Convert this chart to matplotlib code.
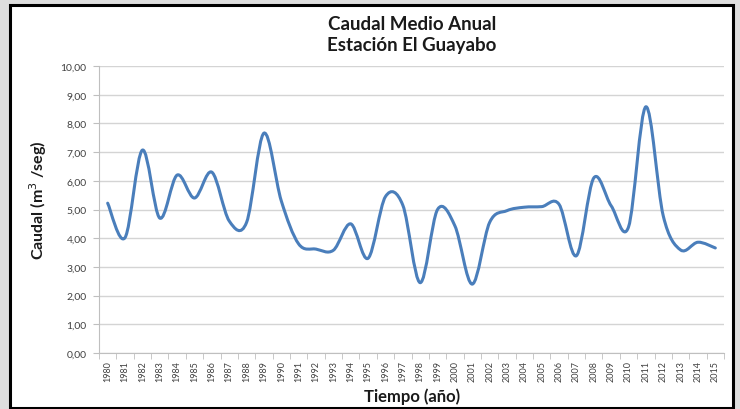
import numpy as np
import matplotlib.pyplot as plt
from matplotlib.path import Path
from matplotlib.patches import PathPatch, Rectangle

years = list(range(1980, 2016))
caudal = [5.22, 4.02, 7.07, 4.70, 6.20, 5.40, 6.30, 4.60, 4.55, 7.66,
          5.30, 3.80, 3.62, 3.58, 4.50, 3.30, 5.45, 5.15, 2.45, 5.00,
          4.43, 2.40, 4.55, 4.96, 5.08, 5.10, 5.18, 3.39, 6.10, 5.13,
          4.39, 8.58, 4.78, 3.59, 3.86, 3.66]
yticks = np.arange(0, 10.01, 1.0)


def smooth_path(x, y):
    # Bezier like Excel's smoothed line
    n = len(x)
    verts = [(x[0], y[0])]
    codes = [Path.MOVETO]
    for i in range(n - 1):
        x0, y0 = (x[i - 1], y[i - 1]) if i > 0 else (x[i], y[i])
        x3, y3 = (x[i + 2], y[i + 2]) if i + 2 < n else (x[i + 1], y[i + 1])
        c1 = (x[i] + (x[i + 1] - x0) / 6, y[i] + (y[i + 1] - y0) / 6)
        c2 = (x[i + 1] - (x3 - x[i]) / 6, y[i + 1] - (y3 - y[i]) / 6)
        verts += [c1, c2, (x[i + 1], y[i + 1])]
        codes += [Path.CURVE4] * 3
    return Path(verts, codes)


plt.rcParams['font.family'] = ['Lato', 'DejaVu Sans']

fig = plt.figure(figsize=(7.4, 4.1), dpi=100, facecolor='#dedede')
fig.patches.append(Rectangle((10 / 740, 1 - 409 / 410), 723 / 740, 403 / 410,
                             transform=fig.transFigure, facecolor='white',
                             edgecolor='black', linewidth=2.2, zorder=-5))

ax = fig.add_axes([99 / 740, 1 - 354 / 410, 625 / 740, 287 / 410])
ax.set_facecolor('none')
ax.set_zorder(2)

xpos = np.arange(len(years))
ax.add_patch(PathPatch(smooth_path(xpos, caudal), facecolor='none',
                       edgecolor='#4a7ebb', linewidth=2.2, zorder=3,
                       capstyle='round', joinstyle='round'))

ax.set_xlim(-0.5, len(years) - 0.5)
ax.set_ylim(0, 10)
ax.set_yticks(yticks)
ax.set_yticklabels([f"{v:.2f}".replace('.', ',') for v in yticks],
                   fontsize=7.5, color='#404040')
ax.yaxis.grid(True, color='#d4d4d4', linewidth=1)
ax.set_axisbelow(True)

ax.set_xticks(xpos)
ax.set_xticklabels([str(y) for y in years], rotation=90, fontsize=6.5,
                   color='#404040')
ax.set_xticks(np.arange(-0.5, len(years)), minor=True)
ax.tick_params(axis='x', which='major', length=0, pad=5)
ax.tick_params(axis='x', which='minor', length=4, color='#bfbfbf')
ax.tick_params(axis='y', length=4, color='#bfbfbf', pad=5)

for s in ['top', 'right']:
    ax.spines[s].set_visible(False)
for s in ['left', 'bottom']:
    ax.spines[s].set_color('#bfbfbf')

fig.text(412 / 740, 1 - 24 / 410, 'Caudal Medio Anual', ha='center',
         va='center', fontsize=13.5, fontweight='bold', color='#1a1a1a')
fig.text(412 / 740, 1 - 46 / 410, 'Estación El Guayabo', ha='center',
         va='center', fontsize=13.5, fontweight='bold', color='#1a1a1a')
fig.text(38 / 740, 1 - 200 / 410, 'Caudal (m$^3$ /seg)', rotation=90,
         ha='center', va='center', fontsize=11.5, fontweight='bold',
         color='#1a1a1a')
fig.text(412 / 740, 1 - 397 / 410, 'Tiempo (año)', ha='center', va='center',
         fontsize=12, fontweight='bold', color='#1a1a1a')

fig.savefig('out.png', dpi=100, facecolor=fig.get_facecolor())
